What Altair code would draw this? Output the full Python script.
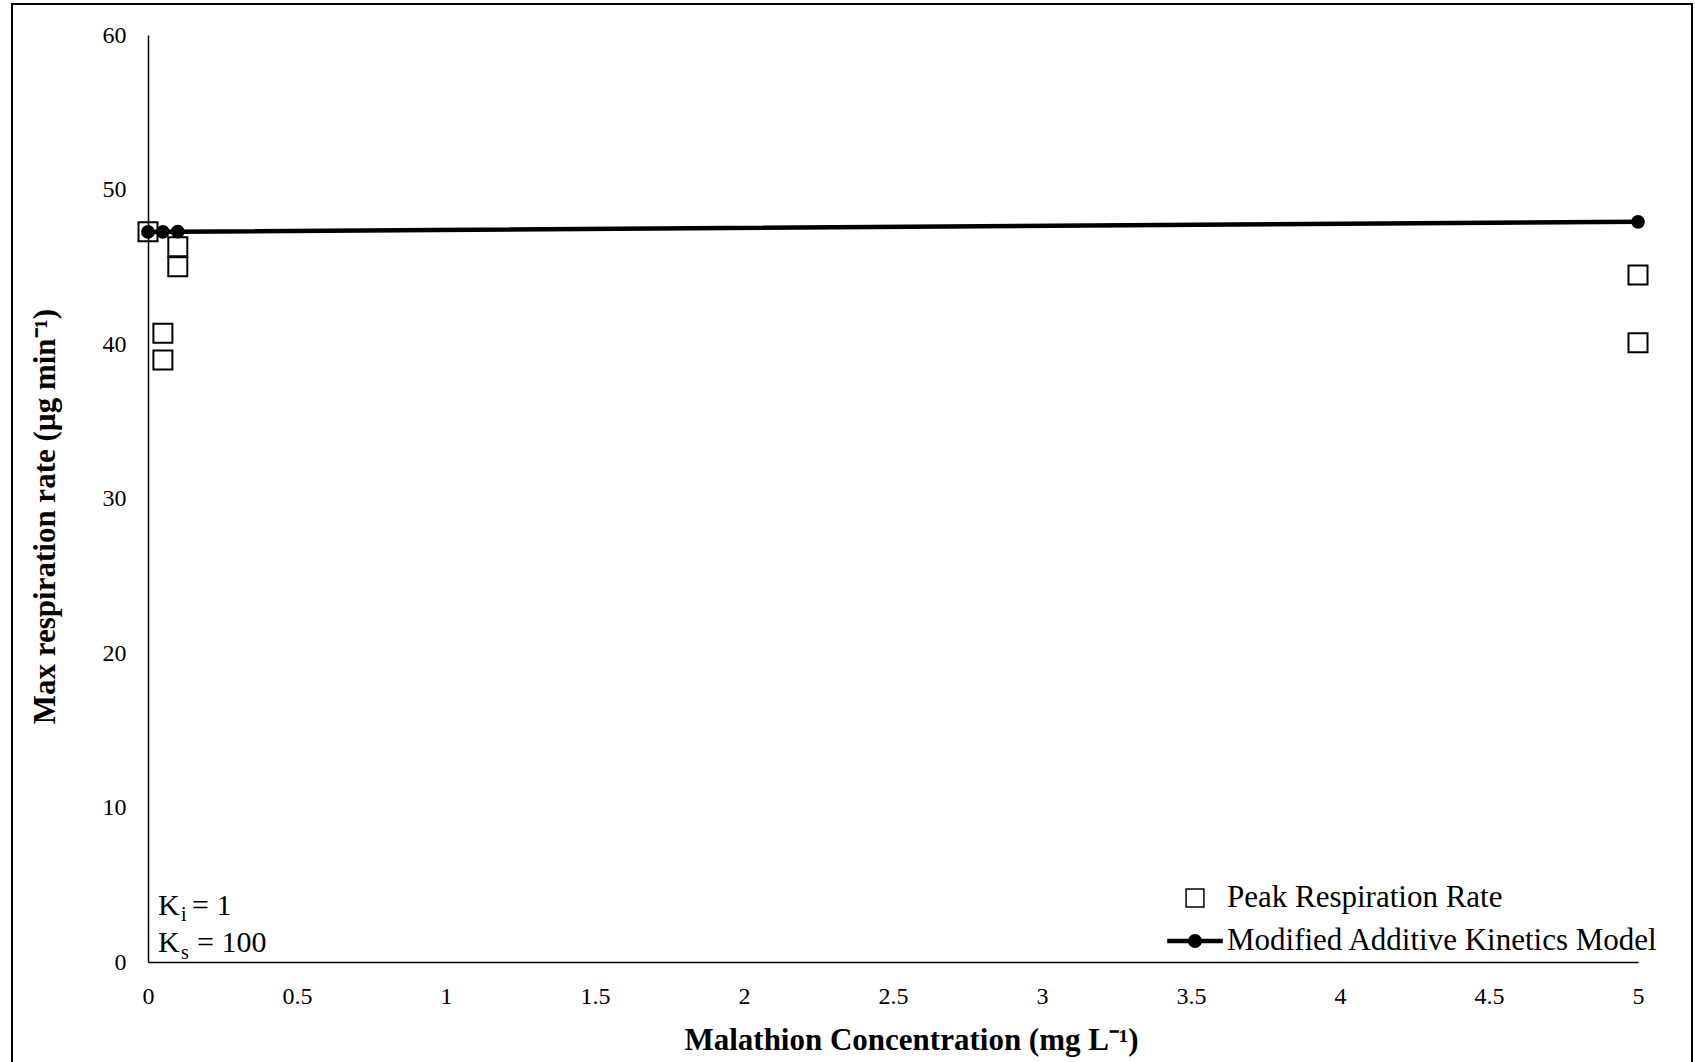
import altair as alt
import pandas as pd

# Peak respiration measurements (replicates at each malathion level)
peak_conc = [0.0, 0.05, 0.05, 0.1, 0.1, 5.0, 5.0]
peak_rate = [47.27, 40.7, 38.96, 46.3, 45.0, 44.47, 40.08]

# Modified additive kinetics model predictions
model_conc = [0.0, 0.05, 0.1, 5.0]
model_rate = [47.25, 47.26, 47.27, 47.91]

series_names = ["Peak Respiration Rate", "Modified Additive Kinetics Model"]

x_ticks = [0, 0.5, 1, 1.5, 2, 2.5, 3, 3.5, 4, 4.5, 5]
y_ticks = [0, 10, 20, 30, 40, 50, 60]

FONT = "Liberation Serif"
W, H = 1490, 927

peak_df = pd.DataFrame({"conc": peak_conc, "rate": peak_rate})
model_df = pd.DataFrame({"conc": model_conc, "rate": model_rate})
legend_df = pd.DataFrame({"series": series_names})
one_row = pd.DataFrame({"k": [0]})

x_enc = alt.X(
    "conc:Q",
    scale=alt.Scale(domain=[0, 5], nice=False, zero=True),
    axis=alt.Axis(
        values=x_ticks, format="~g", ticks=False, grid=False, labelFlush=False,
        domainColor="black", domainWidth=1.5,
        labelFont=FONT, labelFontSize=24, labelColor="black", labelPadding=22,
        title="Malathion Concentration (mg L⁻¹)",
        titleFont=FONT, titleFontSize=31, titleFontWeight="bold", titleColor="black",
        titleX=763, titleY=78, titleBaseline="middle", titleAlign="center",
    ),
)
y_enc = alt.Y(
    "rate:Q",
    scale=alt.Scale(domain=[0, 60], nice=False),
    axis=alt.Axis(
        values=y_ticks, ticks=False, grid=False, labelFlush=False,
        domainColor="black", domainWidth=1.5,
        labelFont=FONT, labelFontSize=24, labelColor="black", labelPadding=22,
        title="Max respiration rate (µg min⁻¹)",
        titleFont=FONT, titleFontSize=31, titleFontWeight="bold", titleColor="black",
        titleX=-103, titleY=481, titleBaseline="middle", titleAlign="center", titleAngle=270,
    ),
)

# Outer frame around the whole figure
frame = alt.Chart(one_row).mark_rect(
    fill="white", fillOpacity=0, stroke="black", strokeWidth=2, clip=False
).encode(
    x=alt.value(-136), x2=alt.value(1544), y=alt.value(-31), y2=alt.value(1040)
)

model_line = alt.Chart(model_df).mark_line(color="black", strokeWidth=4.5).encode(x=x_enc, y=y_enc)
model_pts = alt.Chart(model_df).mark_point(
    shape="circle", filled=True, color="black", size=190, opacity=1
).encode(x=x_enc, y=y_enc)
peak_pts = alt.Chart(peak_df).mark_point(
    shape="square", filled=False, stroke="black", strokeWidth=2, size=361, opacity=1
).encode(x=x_enc, y=y_enc)

# Legend symbols: an open square, and a line with a filled dot
SQUARE_PATH = "M-0.33,-0.33L0.33,-0.33L0.33,0.33L-0.33,0.33Z"
LINE_DOT_PATH = ("M-1,-0.06L1,-0.06L1,0.06L-1,0.06Z "
                 "M-0.23,0A0.23,0.23,0,1,1,0.23,0A0.23,0.23,0,1,1,-0.23,0Z")

legend_layer = alt.Chart(legend_df).mark_point(
    filled=True, opacity=0, size=2916, strokeWidth=1.5
).encode(
    shape=alt.Shape("series:N", title=None,
                    scale=alt.Scale(domain=series_names, range=[SQUARE_PATH, LINE_DOT_PATH])),
    fill=alt.Fill("series:N", title=None,
                  scale=alt.Scale(domain=series_names, range=["white", "black"])),
    stroke=alt.Stroke("series:N", title=None,
                      scale=alt.Scale(domain=series_names, range=["black", "black"])),
)

def label(text, x, y, size):
    return alt.Chart(one_row).mark_text(
        font=FONT, fontSize=size, color="black", align="left", baseline="alphabetic"
    ).encode(x=alt.value(x), y=alt.value(y), text=alt.value(text))

annotation = alt.layer(
    label("K", 10, 880, 30), label("i", 33, 886, 20), label("= 1", 44, 880, 30),
    label("K", 10, 917, 30), label("s", 33, 924, 20), label("= 100", 49, 917, 30),
)

chart = alt.layer(
    frame, model_line, model_pts, peak_pts, legend_layer, annotation
).properties(
    width=W, height=H,
    autosize=alt.AutoSizeParams(type="none"),
    padding={"left": 148, "top": 35, "right": 57, "bottom": 100},
    background="white",
).configure_view(
    stroke=None
).configure_legend(
    orient="none", legendX=1019, legendY=835,
    labelFont=FONT, labelFontSize=31, labelColor="black", labelLimit=0,
    labelOffset=4, symbolSize=2916, symbolStrokeWidth=1.5, symbolOpacity=1,
    padding=0, rowPadding=0, symbolOffset=0,
)

chart.save("out.html", embed_options={"renderer": "svg", "actions": False})
